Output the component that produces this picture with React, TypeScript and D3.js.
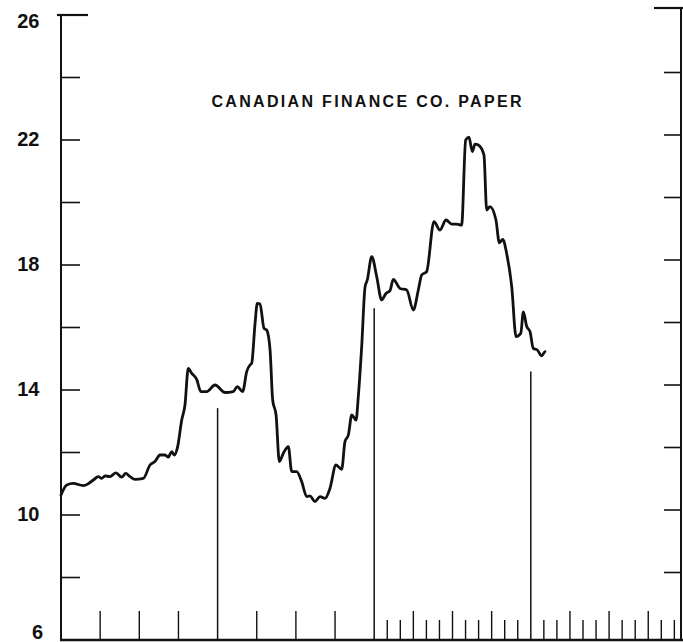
import React from 'react'
import * as d3 from 'd3'

// months since the start of the first year, and the rate (%) read at that point
const months = [
  0.0, 0.44, 0.94, 1.71, 2.09, 2.48, 2.86, 3.12, 3.37, 3.75, 4.21, 4.65, 4.96, 5.29, 5.67,
  6.31, 6.82, 7.2, 7.59, 7.97, 8.22, 8.48, 8.68, 8.94, 9.25, 9.5, 9.75, 10.02, 10.4, 10.71,
  11.16, 11.8, 12.57, 13.2, 13.51, 13.92, 14.23, 14.48, 14.61, 14.87, 15.04, 15.25, 15.56,
  15.76, 16.02, 16.22, 16.48, 16.73, 17.03, 17.42, 17.68, 18.06, 18.44, 18.83, 19.08, 19.46,
  19.85, 20.23, 20.61, 21.07, 21.51, 21.76, 22.02, 22.28, 22.61, 22.78, 23.04, 23.3, 23.47,
  23.81, 24.19, 24.57, 24.9, 25.21, 25.46, 25.98, 26.49, 27.0, 27.38, 27.64, 28.02, 28.58,
  29.04, 29.5, 29.94, 30.32, 30.7, 31.01, 31.26, 31.52, 31.72, 31.98, 32.41, 32.62, 32.87,
  33.33, 33.59, 33.85, 34.15, 34.54, 34.87, 35.23, 35.43, 35.69, 35.94, 36.19, 36.5, 36.84,
  37.09
]
const rates = [
  10.64, 10.96, 11.01, 10.94, 11.0, 11.12, 11.23, 11.17, 11.25, 11.23, 11.35, 11.21, 11.33,
  11.23, 11.14, 11.17, 11.6, 11.71, 11.92, 11.92, 11.85, 12.03, 11.92, 12.19, 13.04, 13.52,
  14.69, 14.53, 14.34, 13.95, 13.95, 14.16, 13.92, 13.95, 14.11, 13.95, 14.59, 14.8, 14.85,
  16.13, 16.77, 16.75, 15.97, 15.92, 15.28, 13.68, 13.2, 11.71, 11.97, 12.19, 11.39, 11.39,
  11.07, 10.59, 10.61, 10.43, 10.59, 10.53, 10.85, 11.6, 11.46, 12.35, 12.56, 13.2, 13.04,
  13.78, 15.38, 17.3, 17.52, 18.27, 17.63, 16.88, 17.09, 17.18, 17.54, 17.25, 17.2, 16.56,
  17.2, 17.68, 17.79, 19.39, 19.12, 19.44, 19.31, 19.31, 19.28, 22.0, 22.09, 21.63, 21.87,
  21.84, 21.52, 19.76, 19.87, 19.44, 18.71, 18.82, 18.37, 17.3, 15.71, 15.81, 16.5, 16.03,
  15.87, 15.33, 15.28, 15.09, 15.23, 15.51
]

// year boundaries (month index) and how high each separator line reaches (%)
const yearBreaks = [12, 24, 36]
const breakTops = [13.42, 16.62, 14.59]

const yLabels = [6, 10, 14, 18, 22, 26]
const yMinor = [8, 10, 12, 14, 16, 18, 20, 22, 24]
const title = 'CANADIAN FINANCE CO. PAPER'

const W = 683
const H = 642
const left = 61
const right = 681
const bottom = 640

const x = d3.scaleLinear().domain([0, 48]).range([left, left + 48 * 13.05])
const y = d3.scaleLinear().domain([6, 26]).range([bottom, 15])

// first two years only carry quarter ticks, the later ones monthly ticks
const quarterTicks = [3, 6, 9, 15, 18, 21, 27, 30, 33, 39, 42, 45]
const monthTicks = d3.range(25, 48).filter(m => m % 3 !== 0)

const line = d3.line<number>()
  .x((d, i) => x(months[i]))
  .y(d => y(d))
  .curve(d3.curveMonotoneX)

const ink = '#111'

export default function App() {
  const rightShift = -5 // the right frame sits a little higher in the original
  return (
    <svg width={W} height={H} style={{ position: 'absolute', left: 0, top: 0, background: '#fff' }}
      fontFamily="'Liberation Sans', Arial, sans-serif">
      {/* left axis */}
      <line x1={left} x2={left} y1={y(26)} y2={bottom + 1} stroke={ink} strokeWidth={2} />
      <line x1={left - 4} x2={left + 27} y1={y(26)} y2={y(26)} stroke={ink} strokeWidth={2.2} />
      {yMinor.map(v => (
        <line key={'l' + v} x1={left} x2={left + 19} y1={y(v)} y2={y(v)} stroke={ink} strokeWidth={1.6} />
      ))}
      {yLabels.map(v => (
        <text key={'t' + v} x={v === 6 ? 43 : 39.5} y={Math.min(Math.max(y(v) + 1, 23), 634)} textAnchor="end"
          dominantBaseline="middle" fontSize={20} fontWeight="bold" fill={ink}>{v}</text>
      ))}

      {/* right axis */}
      <line x1={right} x2={right} y1={y(26) + rightShift - 2} y2={bottom} stroke={ink} strokeWidth={2} />
      <line x1={right - 27} x2={right + 2} y1={y(26) + rightShift - 2} y2={y(26) + rightShift - 2} stroke={ink} strokeWidth={2.2} />
      {yMinor.map(v => (
        <line key={'r' + v} x1={right - 17} x2={right} y1={y(v) + rightShift} y2={y(v) + rightShift} stroke={ink} strokeWidth={1.6} />
      ))}

      {/* bottom axis */}
      <line x1={left - 1} x2={W} y1={bottom} y2={bottom} stroke={ink} strokeWidth={2.5} />
      {quarterTicks.map(m => (
        <line key={'q' + m} x1={x(m)} x2={x(m)} y1={bottom} y2={bottom - 29} stroke={ink} strokeWidth={1.4} />
      ))}
      {monthTicks.map(m => (
        <line key={'m' + m} x1={x(m)} x2={x(m)} y1={bottom} y2={bottom - 20} stroke={ink} strokeWidth={1.4} />
      ))}
      {yearBreaks.map((m, i) => (
        <line key={'y' + m} x1={x(m)} x2={x(m)} y1={bottom} y2={y(breakTops[i])} stroke={ink} strokeWidth={1.5} />
      ))}

      <text x={366.5} y={107} textAnchor="middle" fontSize={16} fontWeight="bold" fill={ink}
        textLength={310} lengthAdjust="spacing">{title}</text>

      <path d={line(rates) || ''} fill="none" stroke={ink} strokeWidth={2.8}
        strokeLinejoin="round" strokeLinecap="round" />
    </svg>
  )
}
